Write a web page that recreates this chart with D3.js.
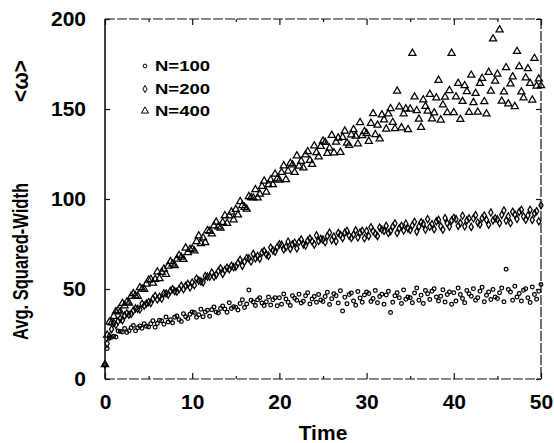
<!DOCTYPE html>
<html><head><meta charset="utf-8">
<script src="https://cdn.jsdelivr.net/npm/d3@7"></script>
<style>
html,body{margin:0;padding:0;background:#fff;}
svg{display:block;font-family:"Liberation Sans",Arial,sans-serif;}
</style></head>
<body><svg id="c" width="554" height="443"></svg>
<script>
// time step of the simulation output
const timeStep = 0.25;
const xTicks = [0, 10, 20, 30, 40, 50];
const xMinorTicks = [5, 15, 25, 35, 45];
const yTicks = [0, 50, 100, 150, 200];
const seriesNames = ["N=100", "N=200", "N=400"];

const n100 = [
8, 17, 22.6, 23.2, 23.8, 23.4, 26.6, 26.4, 26.1, 28.0, 25.9, 26.8, 28.5, 29.7, 26.8, 28.5, 29.5, 28.2, 30.7, 29.3,
28.9, 30.7, 32.3, 28.8, 30.9, 32.7, 32.3, 30.4, 34.4, 31.7, 32.9, 31.2, 34.3, 35.0, 32.9, 31.9, 36.3, 34.6, 33.6, 36.0,
37.2, 37.0, 34.3, 35.7, 38.7, 34.6, 37.2, 38.2, 34.8, 38.5, 40.0, 37.2, 36.6, 39.2, 40.5, 38.9, 37.1, 42.3, 39.1, 40.2,
39.9, 38.3, 42.0, 44.0, 39.7, 41.7, 49.5, 43.8, 42.8, 40.8, 44.0, 45.1, 42.2, 40.9, 42.9, 45.5, 41.1, 44.0, 45.1, 40.7,
45.1, 41.5, 47.2, 44.4, 42.7, 40.9, 46.3, 44.9, 43.8, 47.1, 42.2, 43.2, 46.2, 47.9, 41.6, 44.5, 45.9, 42.7, 47.0, 43.9,
43.0, 45.8, 48.2, 41.4, 44.6, 47.4, 46.2, 42.2, 49.0, 37.8, 45.4, 41.8, 47.0, 47.8, 43.4, 41.0, 48.6, 45.0, 42.6, 46.6,
48.3, 47.5, 43.1, 44.7, 49.1, 42.3, 45.9, 47.1, 41.5, 46.7, 48.7, 36.9, 42.7, 46.3, 47.9, 45.1, 41.9, 49.5, 44.3, 45.5,
45.1, 42.4, 47.8, 50.5, 43.7, 46.5, 41.9, 49.2, 47.4, 44.2, 48.7, 50.1, 45.5, 43.3, 46.0, 49.6, 42.8, 46.9, 48.3, 41.5,
47.9, 43.3, 50.6, 47.0, 44.7, 42.4, 49.2, 47.4, 46.0, 50.1, 43.8, 45.1, 48.8, 51.0, 42.9, 46.5, 48.3, 44.2, 49.7, 45.6,
44.7, 47.9, 50.6, 42.9, 61.0, 49.7, 48.4, 43.8, 51.5, 45.6, 47.5, 43.4, 49.3, 50.2, 45.2, 42.5, 51.1, 47.0, 44.3, 48.8,
52.5];

const n200 = [
8, 19.7, 23.7, 27.7, 31.2, 30.0, 32.1, 33.5, 32.7, 35.2, 36.5, 35.7, 36.1, 38.0, 39.2, 39.0, 38.6, 41.8, 40.8, 41.9,
42.7, 42.2, 44.6, 46.1, 44.2, 45.7, 44.6, 47.6, 47.5, 46.9, 49.0, 49.9, 48.8, 48.5, 50.0, 51.8, 49.9, 51.8, 52.8, 50.9,
53.6, 52.1, 55.8, 54.7, 54.2, 53.7, 57.2, 56.9, 56.8, 59.1, 56.8, 57.9, 60.0, 61.5, 58.4, 60.5, 61.8, 61.0, 62.9, 62.1,
62.4, 64.4, 66.2, 62.9, 65.2, 67.2, 67.0, 65.3, 69.5, 67.0, 68.4, 66.9, 70.2, 71.1, 69.2, 68.4, 73.0, 71.5, 70.7, 73.3,
74.8, 74.6, 72.0, 73.3, 76.3, 72.3, 74.8, 75.8, 72.5, 76.1, 77.5, 74.8, 74.2, 76.8, 78.0, 76.5, 74.7, 79.8, 76.7, 77.8,
77.4, 76.0, 79.4, 81.3, 77.2, 79.1, 76.5, 81.1, 80.1, 78.3, 81.3, 82.3, 79.6, 78.4, 80.2, 82.6, 78.6, 81.3, 82.3, 78.2,
82.2, 79.4, 84.3, 82.1, 80.7, 79.4, 84.1, 83.0, 82.3, 85.1, 81.1, 82.2, 84.7, 86.4, 81.1, 83.7, 85.1, 82.5, 86.3, 83.7,
82.8, 85.3, 87.3, 81.9, 84.7, 87.1, 86.2, 83.0, 88.8, 84.6, 86.0, 83.2, 87.6, 88.4, 84.9, 83.0, 89.4, 86.5, 84.7, 88.1,
89.5, 88.9, 85.1, 86.7, 90.7, 84.8, 88.1, 89.2, 84.5, 89.2, 91.0, 86.9, 85.9, 89.3, 90.8, 88.4, 85.7, 92.5, 88.1, 89.3,
88.7, 86.6, 91.2, 93.6, 88.0, 90.4, 86.7, 92.9, 91.4, 88.9, 92.8, 94.0, 90.3, 88.5, 90.9, 94.0, 88.4, 92.0, 93.2, 87.6,
96.5];

const n400 = [
8, 24.4, 31.6, 31.2, 34.8, 37.5, 38.1, 37.3, 42.0, 40.7, 42.7, 42.2, 46.0, 47.4, 46.2, 46.0, 50.8, 50.0, 49.8, 52.8,
55.0, 55.4, 53.3, 55.4, 59.5, 55.8, 59.3, 61.1, 58.2, 62.8, 65.2, 63.9, 63.0, 66.6, 68.7, 67.7, 66.5, 72.8, 70.2, 72.0,
72.3, 71.2, 76.4, 79.5, 75.2, 78.4, 75.8, 82.5, 82.1, 80.6, 85.1, 87.2, 84.6, 83.9, 87.0, 90.8, 86.5, 90.7, 92.8, 88.5,
94.2, 91.2, 98.6, 96.4, 95.4, 94.4, 101.4, 100.8, 100.6, 105.2, 100.6, 102.8, 107.0, 110.0, 103.8, 108.0, 110.6, 108.0, 113.8, 111.2,
110.5, 114.8, 118.5, 110.8, 115.5, 119.8, 119.0, 114.8, 124.0, 118.3, 121.0, 117.3, 124.5, 126.3, 121.5, 119.3, 129.5, 125.8, 123.5, 129.3,
132.2, 131.5, 125.4, 128.3, 135.4, 125.7, 131.6, 133.9, 126.0, 134.3, 137.8, 131.1, 129.8, 135.7, 138.6, 134.9, 130.6, 142.5, 135.2, 137.5,
136.4, 132.1, 142.1, 147.4, 135.8, 141.1, 133.5, 146.8, 144.0, 138.9, 147.3, 150.2, 142.6, 139.1, 160.0, 151.2, 139.6, 147.3, 150.1, 138.6,
150.0, 181.0, 156.7, 149.1, 144.4, 139.8, 155.1, 151.5, 148.8, 158.2, 144.5, 147.9, 156.2, 166.0, 143.9, 152.3, 156.6, 148.0, 160.3, 181.0,
148.0, 156.8, 164.3, 144.3, 154.2, 163.0, 159.7, 148.1, 168.8, 153.6, 158.7, 148.3, 164.2, 167.0, 154.1, 147.3, 170.4, 160.0, 189.0, 165.5,
169.4, 194.0, 154.4, 159.5, 173.0, 152.9, 164.0, 167.9, 151.4, 182.0, 173.6, 159.5, 156.2, 167.3, 172.4, 164.3, 155.0, 178.1, 162.8, 166.7,
163.0];

const svg = d3.select("#c");
const L = 105, R = 541, T = 19, B = 379;
const x = d3.scaleLinear().domain([0, 50]).range([L, R]);
const y = d3.scaleLinear().domain([0, 200]).range([B, T]);

// markers
const circleSym = d3.symbol().type(d3.symbolCircle).size(11);
const diamondSym = d3.symbol().type(d3.symbolDiamond).size(15);
const triSym = d3.symbol().type(d3.symbolTriangle).size(22);
const syms = [circleSym, diamondSym, triSym];
const all = [n100, n200, n400];

const g = svg.append("g");
all.forEach((arr, k) => {
  g.selectAll(null).data(arr).join("path")
    .attr("transform", (d, i) => `translate(${x(i * timeStep)},${y(d)})`)
    .attr("d", syms[k]())
    .attr("fill", "none").attr("stroke", "#000").attr("stroke-width", 1.25);
});

// frame
const frame = svg.append("g").attr("stroke", "#111").attr("fill", "none");
frame.append("line").attr("x1", L).attr("x2", L).attr("y1", T).attr("y2", B).attr("stroke-width", 1.6);
frame.append("line").attr("x1", L).attr("x2", R).attr("y1", B).attr("y2", B).attr("stroke-width", 1.2).attr("stroke-dasharray", "10,2");
frame.append("line").attr("x1", L).attr("x2", R).attr("y1", T).attr("y2", T).attr("stroke-width", 1.2).attr("stroke-dasharray", "10,2");
frame.append("line").attr("x1", R).attr("x2", R).attr("y1", T).attr("y2", B).attr("stroke-width", 1.2).attr("stroke-dasharray", "10,2");

// axes (inward ticks, both sides)
const xAxB = d3.axisBottom(x).tickValues(xTicks).tickSize(-6).tickFormat(d3.format("d"));
const xAxT = d3.axisTop(x).tickValues(xTicks).tickSize(-6).tickFormat("");
const yAxL = d3.axisLeft(y).tickValues(yTicks).tickSize(-5).tickFormat(d3.format("d"));
const yAxR = d3.axisRight(y).tickValues(yTicks).tickSize(-5).tickFormat("");

function style(sel) {
  sel.select(".domain").remove();
  sel.selectAll(".tick line").attr("stroke", "#111").attr("stroke-width", 1.2);
  sel.selectAll("text").attr("fill", "#000").attr("font-size", 21).attr("font-weight", "bold")
    .attr("font-family", "'Liberation Sans', Arial, sans-serif");
}
const gxb = svg.append("g").attr("transform", `translate(0,${B})`).call(xAxB).call(style);
gxb.selectAll("text").attr("y", 15).attr("dy", "0.71em");
svg.append("g").attr("transform", `translate(0,${T})`).call(xAxT).call(style);
const gyl = svg.append("g").attr("transform", `translate(${L},0)`).call(yAxL).call(style);
gyl.selectAll("text").attr("x", -19);
svg.append("g").attr("transform", `translate(${R},0)`).call(yAxR).call(style);

// minor x ticks
const minorB = d3.axisBottom(x).tickValues(xMinorTicks).tickSize(-3).tickFormat("");
const minorT = d3.axisTop(x).tickValues(xMinorTicks).tickSize(-3).tickFormat("");
svg.append("g").attr("transform", `translate(0,${B})`).call(minorB).call(style);
svg.append("g").attr("transform", `translate(0,${T})`).call(minorT).call(style);

// axis titles
svg.append("text").attr("x", 323).attr("y", 440).attr("text-anchor", "middle")
  .attr("font-size", 21).attr("font-weight", "bold").text("Time");
svg.append("text").attr("transform", "translate(28,340) rotate(-90)")
  .attr("font-size", 22).attr("font-weight", "bold")
  .attr("textLength", 157).attr("lengthAdjust", "spacingAndGlyphs")
  .text("Avg. Squared-Width");
svg.append("text").attr("transform", "translate(28,102) rotate(-90)")
  .attr("font-size", 22).attr("font-weight", "bold")
  .attr("textLength", 42).attr("lengthAdjust", "spacingAndGlyphs")
  .text("<ω>");

// legend
const legY = [66, 89, 111];
const lg = svg.append("g");
seriesNames.forEach((name, k) => {
  lg.append("path").attr("transform", `translate(145,${legY[k]})`).attr("d", syms[k]())
    .attr("fill", "none").attr("stroke", "#000").attr("stroke-width", 1);
  lg.append("text").attr("x", 155).attr("y", legY[k]).attr("dy", "0.36em")
    .attr("font-size", 14).attr("font-weight", "bold")
    .attr("textLength", 55).attr("lengthAdjust", "spacingAndGlyphs").text(name);
});
</script></body></html>
